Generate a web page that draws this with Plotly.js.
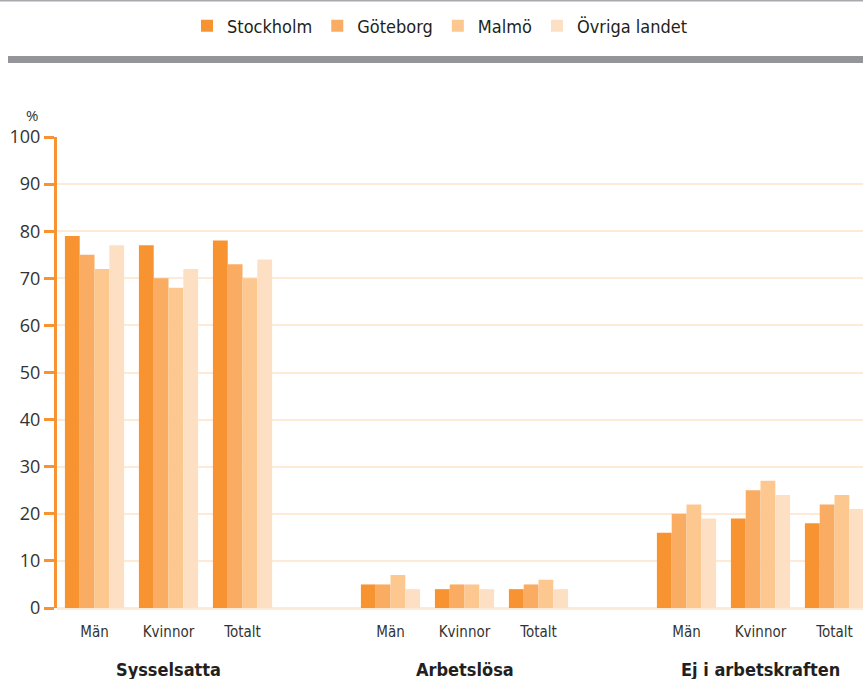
<!DOCTYPE html>
<html>
<head>
<meta charset="utf-8">
<script src="https://cdn.plot.ly/plotly-3.0.1.min.js"></script>
<style>
html,body{margin:0;padding:0;background:#fff;}
#chart{width:863px;height:679px;}
</style>
</head>
<body>
<div id="chart"></div>
<script>
// ---- data ----
const groups = ["Sysselsatta", "Arbetslösa", "Ej i arbetskraften"];
const subCategories = ["Män", "Kvinnor", "Totalt"];
const seriesNames = ["Stockholm", "Göteborg", "Malmö", "Övriga landet"];
const stockholm = [79, 77, 78, 5, 4, 4, 16, 19, 18];
const goteborg  = [75, 70, 73, 5, 5, 5, 20, 25, 22];
const malmo     = [72, 68, 70, 7, 5, 6, 22, 27, 24];
const ovriga    = [77, 72, 74, 4, 4, 4, 19, 24, 21];
const yTicks = [0, 10, 20, 30, 40, 50, 60, 70, 80, 90, 100];
const colors = ["#F79431", "#FAAC62", "#FDC790", "#FDE0C3"];

// ---- positions derived from indices (a blank slot between groups) ----
const xPos = [], tickText = [];
groups.forEach((g, gi) => subCategories.forEach((s, si) => { xPos.push(gi * 4 + si); tickText.push(s); }));
const groupCenters = groups.map((g, gi) => gi * 4 + 1);

const seriesValues = [stockholm, goteborg, malmo, ovriga];
const traces = seriesNames.map((name, i) => ({
  type: "bar",
  name: name,
  x: xPos,
  y: seriesValues[i],
  marker: {color: colors[i], line: {width: 0}},
  hoverinfo: "name+y"
}));

const condensed = "Liberation Sans Narrow, DejaVu Sans Condensed, Arial Narrow, sans-serif";
const H = 679, W = 863, plotTop = 137, plotBottom = 608, plotLeft = 57;
const plotH = plotBottom - plotTop;
const py = px => (plotBottom - px) / plotH;       // pixel row -> paper y
const pxToPaperX = px => (px - plotLeft) / (W - plotLeft);

const layout = {
  width: W, height: H,
  margin: {l: plotLeft, r: 0, t: plotTop, b: H - plotBottom, pad: 0},
  paper_bgcolor: "#ffffff",
  plot_bgcolor: "#ffffff",
  barmode: "group",
  bargap: 0.2,
  bargroupgap: 0,
  showlegend: true,
  legend: {
    orientation: "h",
    xref: "container", yref: "container",
    x: 440 / W, xanchor: "center",
    y: 1 - 26 / H, yanchor: "middle",
    font: {family: condensed, size: 18, color: "#231f20"},
    traceorder: "normal",
    itemclick: false
  },
  xaxis: {
    range: [-0.507, 10.385],
    tickmode: "array",
    tickvals: xPos,
    ticktext: tickText,
    ticks: "",
    showgrid: false,
    zeroline: false,
    showline: false,
    tickfont: {family: condensed, size: 15, color: "#333333"},
    ticklabelstandoff: 13,
    fixedrange: true
  },
  yaxis: {
    range: [0, 100],
    tickvals: yTicks,
    ticks: "outside",
    ticklen: 10,
    tickwidth: 3,
    tickcolor: "#F79431",
    showline: true,
    linecolor: "#F79431",
    linewidth: 3,
    showgrid: true,
    gridcolor: "#FDEBD8",
    gridwidth: 2,
    zeroline: true,
    zerolinecolor: "#FDEBD8",
    zerolinewidth: 3,
    tickfont: {family: "Open Sans, sans-serif", size: 18, color: "#333333"},
    fixedrange: true
  },
  shapes: [
    {type: "rect", xref: "paper", yref: "paper",
     x0: pxToPaperX(8), x1: 1, y0: py(63), y1: py(56),
     fillcolor: "#939598", line: {width: 0}},
    {type: "rect", xref: "paper", yref: "paper",
     x0: pxToPaperX(0), x1: 1, y0: py(1.5), y1: py(0),
     fillcolor: "#A7A9AC", line: {width: 0}}
  ],
  annotations: [
    {text: "%", xref: "paper", yref: "paper", x: pxToPaperX(32), y: py(115),
     xanchor: "center", yanchor: "middle", showarrow: false,
     font: {family: "Open Sans, sans-serif", size: 15, color: "#333333"}}
  ].concat(groups.map((g, gi) => ({
    text: "<b>" + g + "</b>", xref: "x", yref: "paper",
    x: groupCenters[gi], y: py(669), xanchor: "center", yanchor: "middle",
    showarrow: false,
    font: {family: condensed, size: 18, color: "#231f20"}
  })))
};

Plotly.newPlot("chart", traces, layout, {displayModeBar: false, staticPlot: true});
</script>
</body>
</html>
